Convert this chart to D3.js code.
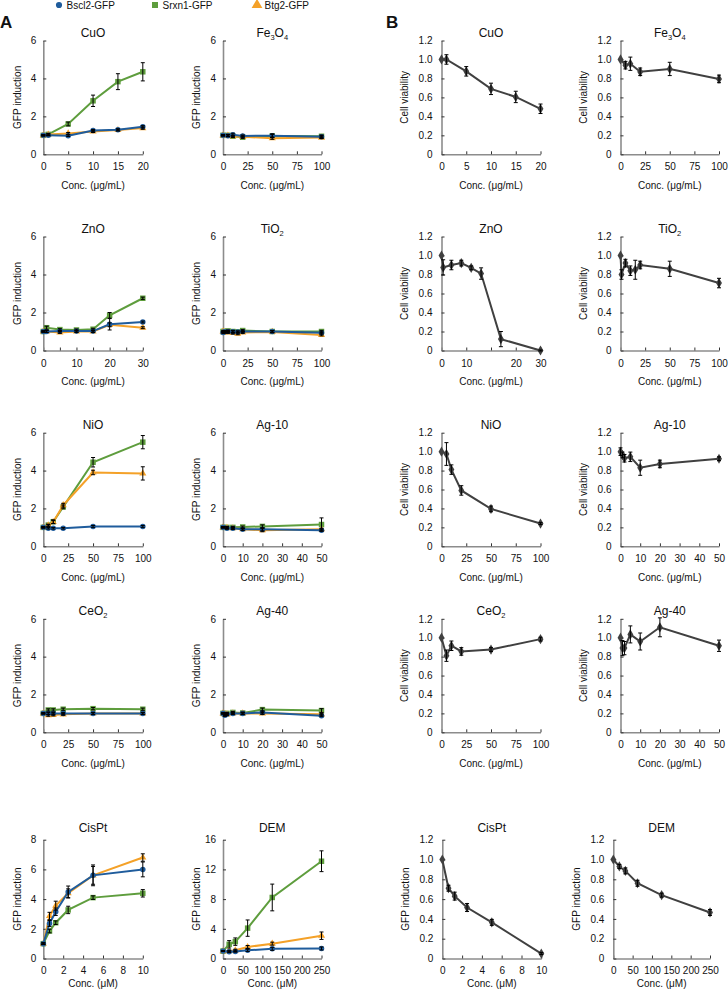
<!DOCTYPE html>
<html><head><meta charset="utf-8">
<script src="https://cdn.jsdelivr.net/npm/d3@7"></script>
<style>
body{margin:0;background:#fff}
svg{display:block}
text{font-family:"Liberation Sans",Arial,Helvetica,sans-serif;fill:#111}
</style>
</head><body>
<svg id="c" width="728" height="991"></svg>
<script>
// ---------------- DATA ----------------
const seriesNames = ["Bscl2-GFP", "Srxn1-GFP", "Btg2-GFP"];

// Panel A: GFP induction (Bscl2, Srxn1, Btg2)
const cuoConc = [0, 1, 5, 10, 15, 20];
const cuoBscl2 = [1.00, 1.00, 0.98, 1.25, 1.29, 1.45];
const cuoBscl2Err = [0.03, 0.03, 0.04, 0.06, 0.05, 0.06];
const cuoSrxn1 = [1.00, 1.05, 1.60, 2.82, 3.83, 4.35];
const cuoSrxn1Err = [0.03, 0.05, 0.10, 0.30, 0.42, 0.48];
const cuoBtg2 = [1.00, 1.04, 1.10, 1.20, 1.28, 1.38];
const cuoBtg2Err = [0.03, 0.04, 0.05, 0.05, 0.05, 0.06];

const fe3o4Conc = [0, 5, 10, 20, 50, 100];
const fe3o4Bscl2 = [1.00, 0.98, 1.03, 0.97, 0.98, 0.92];
const fe3o4Bscl2Err = [0.03, 0.05, 0.08, 0.05, 0.10, 0.08];
const fe3o4Srxn1 = [1.00, 1.00, 0.95, 0.90, 0.97, 0.95];
const fe3o4Srxn1Err = [0.03, 0.05, 0.06, 0.06, 0.08, 0.06];
const fe3o4Btg2 = [1.00, 0.98, 0.95, 0.92, 0.85, 0.88];
const fe3o4Btg2Err = [0.03, 0.05, 0.05, 0.05, 0.06, 0.05];

const znoConc = [0, 1, 5, 10, 15, 20, 30];
const znoBscl2 = [1.00, 1.00, 1.02, 1.02, 1.02, 1.38, 1.50];
const znoBscl2Err = [0.03, 0.05, 0.05, 0.05, 0.05, 0.30, 0.05];
const znoSrxn1 = [1.00, 1.20, 1.10, 1.08, 1.12, 1.85, 2.75];
const znoSrxn1Err = [0.03, 0.08, 0.05, 0.05, 0.05, 0.15, 0.06];
const znoBtg2 = [1.00, 1.00, 0.95, 1.00, 1.00, 1.35, 1.20];
const znoBtg2Err = [0.03, 0.05, 0.05, 0.05, 0.05, 0.10, 0.05];

const tio2Conc = [0, 1, 5, 10, 15, 20, 50, 100];
const tio2Bscl2 = [0.95, 0.98, 1.00, 0.98, 0.97, 1.00, 1.00, 0.93];
const tio2Bscl2Err = [0.04, 0.05, 0.05, 0.06, 0.05, 0.05, 0.05, 0.06];
const tio2Srxn1 = [1.00, 1.00, 1.03, 1.00, 0.98, 1.05, 1.00, 1.00];
const tio2Srxn1Err = [0.03, 0.05, 0.05, 0.06, 0.05, 0.05, 0.05, 0.06];
const tio2Btg2 = [1.00, 0.95, 0.95, 0.92, 0.88, 0.95, 0.98, 0.82];
const tio2Btg2Err = [0.03, 0.05, 0.05, 0.05, 0.05, 0.05, 0.05, 0.05];

const nioConc = [0, 5, 10, 20, 50, 100];
const nioBscl2 = [1.00, 0.95, 0.95, 0.95, 1.05, 1.05];
const nioBscl2Err = [0.03, 0.04, 0.04, 0.04, 0.05, 0.05];
const nioSrxn1 = [1.00, 1.12, 1.30, 2.08, 4.44, 5.50];
const nioSrxn1Err = [0.03, 0.05, 0.10, 0.10, 0.25, 0.35];
const nioBtg2 = [1.00, 1.10, 1.28, 2.17, 3.90, 3.85];
const nioBtg2Err = [0.03, 0.05, 0.08, 0.10, 0.12, 0.35];

const ag10Conc = [0, 2, 5, 10, 20, 50];
const ag10Bscl2 = [1.00, 0.95, 0.95, 0.90, 0.90, 0.85];
const ag10Bscl2Err = [0.03, 0.05, 0.05, 0.05, 0.08, 0.05];
const ag10Srxn1 = [1.00, 1.00, 1.00, 1.02, 1.05, 1.15];
const ag10Srxn1Err = [0.03, 0.05, 0.05, 0.05, 0.08, 0.35];
const ag10Btg2 = [1.00, 0.98, 0.95, 0.90, 0.85, 0.90];
const ag10Btg2Err = [0.03, 0.05, 0.05, 0.05, 0.08, 0.05];

const ceo2Conc = [0, 5, 10, 20, 50, 100];
const ceo2Bscl2 = [1.00, 1.00, 1.00, 1.00, 1.00, 1.00];
const ceo2Bscl2Err = [0.03, 0.05, 0.05, 0.05, 0.05, 0.05];
const ceo2Srxn1 = [1.00, 1.18, 1.18, 1.22, 1.25, 1.22];
const ceo2Srxn1Err = [0.03, 0.06, 0.06, 0.06, 0.06, 0.06];
const ceo2Btg2 = [1.00, 0.90, 0.92, 0.95, 1.00, 1.00];
const ceo2Btg2Err = [0.03, 0.05, 0.05, 0.05, 0.05, 0.05];

const ag40Conc = [0, 1, 2, 5, 10, 20, 50];
const ag40Bscl2 = [1.00, 0.90, 0.95, 1.00, 1.00, 1.05, 0.88];
const ag40Bscl2Err = [0.03, 0.06, 0.05, 0.05, 0.05, 0.08, 0.05];
const ag40Srxn1 = [1.00, 0.95, 1.00, 1.05, 1.02, 1.20, 1.15];
const ag40Srxn1Err = [0.03, 0.05, 0.05, 0.05, 0.05, 0.08, 0.10];
const ag40Btg2 = [1.00, 0.95, 0.95, 1.00, 1.00, 1.00, 0.95];
const ag40Btg2Err = [0.03, 0.05, 0.05, 0.05, 0.05, 0.05, 0.05];

const cisptConc = [0, 0.625, 1.25, 2.5, 5, 10];
const cisptBscl2 = [1.00, 2.36, 3.15, 4.48, 5.60, 6.00];
const cisptBscl2Err = [0.05, 0.20, 0.25, 0.40, 0.70, 0.50];
const cisptSrxn1 = [1.00, 1.85, 2.41, 3.27, 4.10, 4.39];
const cisptSrxn1Err = [0.05, 0.12, 0.12, 0.25, 0.12, 0.25];
const cisptBtg2 = [1.00, 2.86, 3.56, 4.39, 5.60, 6.80];
const cisptBtg2Err = [0.05, 0.25, 0.30, 0.30, 0.60, 0.25];

const demConc = [0, 15.625, 31.25, 62.5, 125, 250];
const demBscl2 = [1.00, 0.90, 0.95, 1.10, 1.30, 1.35];
const demBscl2Err = [0.05, 0.10, 0.10, 0.15, 0.20, 0.20];
const demSrxn1 = [1.00, 1.91, 2.27, 4.09, 8.22, 13.10];
const demSrxn1Err = [0.05, 0.50, 0.50, 1.10, 1.80, 1.40];
const demBtg2 = [1.00, 1.00, 1.10, 1.55, 2.00, 3.07];
const demBtg2Err = [0.05, 0.10, 0.15, 0.20, 0.20, 0.50];

// Panel B: cell viability
const vCuoConc = [0, 1, 5, 10, 15, 20];
const vCuo = [1.00, 1.00, 0.875, 0.69, 0.605, 0.48];
const vCuoErr = [0, 0.05, 0.05, 0.06, 0.06, 0.05];

const vFe3o4Conc = [0, 5, 10, 20, 50, 100];
const vFe3o4 = [1.00, 0.94, 0.955, 0.87, 0.90, 0.795];
const vFe3o4Err = [0, 0.04, 0.07, 0.04, 0.07, 0.04];

const vZnoConc = [0, 0.5, 3, 6, 9, 12, 18, 30];
const vZno = [1.00, 0.875, 0.90, 0.92, 0.87, 0.81, 0.12, 0.00];
const vZnoErr = [0, 0.08, 0.05, 0.03, 0.02, 0.06, 0.08, 0.005];

const vTio2Conc = [0, 1, 5, 10, 15, 20, 50, 100];
const vTio2 = [1.00, 0.80, 0.92, 0.84, 0.85, 0.90, 0.86, 0.71];
const vTio2Err = [0, 0.05, 0.04, 0.05, 0.10, 0.04, 0.08, 0.05];

const vNioConc = [0, 5, 10, 20, 50, 100];
const vNio = [1.00, 0.975, 0.81, 0.59, 0.395, 0.24];
const vNioErr = [0, 0.12, 0.05, 0.05, 0.03, 0.01];

const vAg10Conc = [0, 1, 2, 5, 10, 20, 50];
const vAg10 = [1.00, 0.965, 0.93, 0.945, 0.83, 0.87, 0.925];
const vAg10Err = [0.04, 0.03, 0.04, 0.05, 0.08, 0.04, 0.02];

const vCeo2Conc = [0, 5, 10, 20, 50, 100];
const vCeo2 = [1.00, 0.81, 0.915, 0.855, 0.875, 0.985];
const vCeo2Err = [0, 0.06, 0.05, 0.04, 0.02, 0.02];

const vAg40Conc = [0, 1, 2, 5, 10, 20, 50];
const vAg40 = [1.00, 0.89, 0.89, 1.035, 0.96, 1.11, 0.915];
const vAg40Err = [0, 0.08, 0.07, 0.09, 0.09, 0.10, 0.06];

const vCisptConc = [0, 0.625, 1.25, 2.5, 5, 10];
const vCispt = [1.00, 0.71, 0.63, 0.515, 0.365, 0.05];
const vCisptErr = [0, 0.03, 0.04, 0.04, 0.03, 0.01];

const vDemConc = [0, 15.625, 31.25, 62.5, 125, 250];
const vDem = [1.00, 0.93, 0.885, 0.76, 0.64, 0.465];
const vDemErr = [0, 0.02, 0.03, 0.03, 0.02, 0.03];

// Tick labels
const yTicksA = [0, 2, 4, 6];
const yTicksCispt = [0, 2, 4, 6, 8];
const yTicksDem = [0, 4, 8, 12, 16];
const yTicksB = [0, 0.2, 0.4, 0.6, 0.8, 1.0, 1.2];
const xTicks20 = [0, 5, 10, 15, 20];
const xTicks100 = [0, 25, 50, 75, 100];
const xTicks30 = [0, 5, 10, 15, 20, 25, 30];
const xTicks30B = [0, 7.5, 15, 22.5, 30];
const xTicks30BLabels = ["0", "10", "", "20", "30"];
const xTicks50 = [0, 10, 20, 30, 40, 50];
const xTicks10 = [0, 2, 4, 6, 8, 10];
const xTicks250 = [0, 50, 100, 150, 200, 250];

// ---------------- STYLE / LAYOUT ----------------
const colors = {Bscl2: "#1f5c9c", Srxn1: "#5e9d3d", Btg2: "#f4a128"};
const gray = "#404040";
const rowTop = [40.5, 236.5, 432.7, 618.8, 839.7];
const rowBot = [154.3, 350.5, 546.3, 732.3, 958.5];
const colsA = [[43.3, 142.8], [223, 321.5]];
const colsB = [[441.5, 540.5], [620.5, 719]];
const colsB5 = [[442.3, 541.3], [613.3, 710]];

const svg = d3.select("#c");

function addTitle(g, cx, y, str) {
  const t = g.append("text").attr("x", cx).attr("y", y)
    .attr("text-anchor", "middle").attr("font-size", 12);
  // digits in chemical formulas become subscripts
  const parts = str.match(/(\d+|\D+)/g);
  const chem = !str.includes("-");
  let sub = false;
  parts.forEach(p => {
    const isNum = /^\d+$/.test(p) && chem;
    const ts = t.append("tspan").text(p);
    if (isNum && !sub) { ts.attr("font-size", 7.5).attr("dy", 3); sub = true; }
    else if (!isNum && sub) { ts.attr("dy", -3); sub = false; }
  });
}

function panel(p) {
  const g = svg.append("g");
  const x = d3.scaleLinear().domain([0, p.xMax]).range([p.x0, p.x1]);
  const y = d3.scaleLinear().domain([0, p.yMax]).range([p.yb, p.yt]);
  const last = p.last;
  const xa = d3.axisBottom(x).tickValues(p.xTicks).tickSizeInner(-3).tickSizeOuter(0)
    .tickPadding(last ? 8 : 9)
    .tickFormat((d, i) => p.xLabels ? p.xLabels[i] : (p.xEvery ? (d % p.xEvery === 0 ? d : "") : d));
  const ya = d3.axisLeft(y).tickValues(p.yTicks).tickSizeInner(-3).tickSizeOuter(0)
    .tickPadding(p.isB ? 9 : 7)
    .tickFormat(p.isB ? (d => d === 0 ? "0" : d.toFixed(1)) : d3.format("d"));
  [g.append("g").attr("transform", `translate(0,${p.yb})`).call(xa),
   g.append("g").attr("transform", `translate(${p.x0},0)`).call(ya)].forEach(a => {
    a.select(".domain").attr("stroke", "#8c8c8c").attr("stroke-width", 1.6);
    a.selectAll(".tick line").attr("stroke", "#333").attr("stroke-width", 1);
    a.selectAll(".tick text").attr("font-size", 10).attr("fill", "#111")
      .attr("font-family", '"Liberation Sans",Arial,sans-serif');
  });
  addTitle(g, (p.x0 + p.x1) / 2, p.yt - (last ? 7.7 : 3.8), p.title);
  g.append("text").attr("x", (p.x0 + p.x1) / 2).attr("y", p.yb + (last ? 28.5 : 34.5))
    .attr("text-anchor", "middle").attr("font-size", 10).text(p.xTitle);
  g.append("text")
    .attr("transform", `translate(${p.x0 - (p.isB ? 37 : 26.3)},${(p.yt + p.yb) / 2}) rotate(-90)`)
    .attr("text-anchor", "middle").attr("dy", "0.35em").attr("font-size", 10).text(p.yTitle);

  const line = d3.line().x(d => x(d[0])).y(d => y(d[1]));
  p.series.forEach(s => {
    const pts = p.conc.map((c, i) => [c, s.vals[i]]);
    g.append("path").attr("d", line(pts)).attr("fill", "none")
      .attr("stroke", s.color).attr("stroke-width", 2);
    g.selectAll(null).data(pts).enter().append("path")
      .attr("transform", d => `translate(${x(d[0])},${y(d[1])})`)
      .attr("d", d3.symbol().type(s.shape).size(s.size))
      .attr("fill", s.color);
  });
  p.series.forEach(s => {
    p.conc.forEach((c, i) => {
      const e = s.errs[i];
      if (!e) return;
      const cx = x(c), y1 = y(s.vals[i] - e), y2 = y(s.vals[i] + e);
      g.append("line").attr("x1", cx).attr("x2", cx).attr("y1", y1).attr("y2", y2)
        .attr("stroke", "#000").attr("stroke-width", 1);
      [y1, y2].forEach(yy => g.append("line").attr("x1", cx - 2).attr("x2", cx + 2)
        .attr("y1", yy).attr("y2", yy).attr("stroke", "#000").attr("stroke-width", 1));
    });
  });
}

function aSeries(b, be, s, se, t, te) {
  return [
    {vals: s, errs: se, color: colors.Srxn1, shape: d3.symbolSquare, size: 30},
    {vals: t, errs: te, color: colors.Btg2, shape: d3.symbolTriangle, size: 22},
    {vals: b, errs: be, color: colors.Bscl2, shape: d3.symbolCircle, size: 24}
  ];
}
function bSeries(v, e) {
  return [{vals: v, errs: e, color: gray, shape: d3.symbolDiamond, size: 30}];
}

const ug = "Conc. (\u03bcg/mL)", um = "Conc. (\u03bcM)";
const panelsA = [
  {title: "CuO", conc: cuoConc, series: aSeries(cuoBscl2, cuoBscl2Err, cuoSrxn1, cuoSrxn1Err, cuoBtg2, cuoBtg2Err), xMax: 20, xTicks: xTicks20, yMax: 6, yTicks: yTicksA, xTitle: ug, r: 0, c: 0},
  {title: "Fe3O4", conc: fe3o4Conc, series: aSeries(fe3o4Bscl2, fe3o4Bscl2Err, fe3o4Srxn1, fe3o4Srxn1Err, fe3o4Btg2, fe3o4Btg2Err), xMax: 100, xTicks: xTicks100, yMax: 6, yTicks: yTicksA, xTitle: ug, r: 0, c: 1},
  {title: "ZnO", conc: znoConc, series: aSeries(znoBscl2, znoBscl2Err, znoSrxn1, znoSrxn1Err, znoBtg2, znoBtg2Err), xMax: 30, xTicks: xTicks30, xEvery: 10, yMax: 6, yTicks: yTicksA, xTitle: ug, r: 1, c: 0},
  {title: "TiO2", conc: tio2Conc, series: aSeries(tio2Bscl2, tio2Bscl2Err, tio2Srxn1, tio2Srxn1Err, tio2Btg2, tio2Btg2Err), xMax: 100, xTicks: xTicks100, yMax: 6, yTicks: yTicksA, xTitle: ug, r: 1, c: 1},
  {title: "NiO", conc: nioConc, series: aSeries(nioBscl2, nioBscl2Err, nioSrxn1, nioSrxn1Err, nioBtg2, nioBtg2Err), xMax: 100, xTicks: xTicks100, yMax: 6, yTicks: yTicksA, xTitle: ug, r: 2, c: 0},
  {title: "Ag-10", conc: ag10Conc, series: aSeries(ag10Bscl2, ag10Bscl2Err, ag10Srxn1, ag10Srxn1Err, ag10Btg2, ag10Btg2Err), xMax: 50, xTicks: xTicks50, yMax: 6, yTicks: yTicksA, xTitle: ug, r: 2, c: 1},
  {title: "CeO2", conc: ceo2Conc, series: aSeries(ceo2Bscl2, ceo2Bscl2Err, ceo2Srxn1, ceo2Srxn1Err, ceo2Btg2, ceo2Btg2Err), xMax: 100, xTicks: xTicks100, yMax: 6, yTicks: yTicksA, xTitle: ug, r: 3, c: 0},
  {title: "Ag-40", conc: ag40Conc, series: aSeries(ag40Bscl2, ag40Bscl2Err, ag40Srxn1, ag40Srxn1Err, ag40Btg2, ag40Btg2Err), xMax: 50, xTicks: xTicks50, yMax: 6, yTicks: yTicksA, xTitle: ug, r: 3, c: 1},
  {title: "CisPt", conc: cisptConc, series: aSeries(cisptBscl2, cisptBscl2Err, cisptSrxn1, cisptSrxn1Err, cisptBtg2, cisptBtg2Err), xMax: 10, xTicks: xTicks10, yMax: 8, yTicks: yTicksCispt, xTitle: um, r: 4, c: 0},
  {title: "DEM", conc: demConc, series: aSeries(demBscl2, demBscl2Err, demSrxn1, demSrxn1Err, demBtg2, demBtg2Err), xMax: 250, xTicks: xTicks250, yMax: 16, yTicks: yTicksDem, xTitle: um, r: 4, c: 1}
];
const panelsB = [
  {title: "CuO", conc: vCuoConc, series: bSeries(vCuo, vCuoErr), xMax: 20, xTicks: xTicks20, xTitle: ug, r: 0, c: 0},
  {title: "Fe3O4", conc: vFe3o4Conc, series: bSeries(vFe3o4, vFe3o4Err), xMax: 100, xTicks: xTicks100, xTitle: ug, r: 0, c: 1},
  {title: "ZnO", conc: vZnoConc, series: bSeries(vZno, vZnoErr), xMax: 30, xTicks: xTicks30B, xLabels: xTicks30BLabels, xTitle: ug, r: 1, c: 0},
  {title: "TiO2", conc: vTio2Conc, series: bSeries(vTio2, vTio2Err), xMax: 100, xTicks: xTicks100, xTitle: ug, r: 1, c: 1},
  {title: "NiO", conc: vNioConc, series: bSeries(vNio, vNioErr), xMax: 100, xTicks: xTicks100, xTitle: ug, r: 2, c: 0},
  {title: "Ag-10", conc: vAg10Conc, series: bSeries(vAg10, vAg10Err), xMax: 50, xTicks: xTicks50, xTitle: ug, r: 2, c: 1},
  {title: "CeO2", conc: vCeo2Conc, series: bSeries(vCeo2, vCeo2Err), xMax: 100, xTicks: xTicks100, xTitle: ug, r: 3, c: 0},
  {title: "Ag-40", conc: vAg40Conc, series: bSeries(vAg40, vAg40Err), xMax: 50, xTicks: xTicks50, xTitle: ug, r: 3, c: 1},
  {title: "CisPt", conc: vCisptConc, series: bSeries(vCispt, vCisptErr), xMax: 10, xTicks: xTicks10, xTitle: um, yTitle: "GFP induction", r: 4, c: 0},
  {title: "DEM", conc: vDemConc, series: bSeries(vDem, vDemErr), xMax: 250, xTicks: xTicks250, xTitle: um, yTitle: "GFP induction", r: 4, c: 1}
];

panelsA.forEach(p => {
  const [x0, x1] = colsA[p.c];
  panel(Object.assign({}, p, {x0, x1, yt: rowTop[p.r], yb: rowBot[p.r], last: p.r === 4,
    isB: false, yTitle: "GFP induction"}));
});
panelsB.forEach(p => {
  const [x0, x1] = (p.r === 4 ? colsB5 : colsB)[p.c];
  panel(Object.assign({}, p, {x0, x1, yt: rowTop[p.r], yb: rowBot[p.r], last: p.r === 4,
    isB: true, yMax: 1.2, yTicks: yTicksB, yTitle: p.yTitle || "Cell viability"}));
});

svg.append("text").attr("x", 0).attr("y", 28).attr("font-size", 17).attr("font-weight", "bold").text("A");
svg.append("text").attr("x", 386).attr("y", 28).attr("font-size", 17).attr("font-weight", "bold").text("B");

const legX = [59, 155, 257];
const legShapes = [d3.symbolCircle, d3.symbolSquare, d3.symbolTriangle];
const legSizes = [30, 36, 50];
const legCols = [colors.Bscl2, colors.Srxn1, colors.Btg2];
seriesNames.forEach((n, i) => {
  svg.append("path").attr("transform", `translate(${legX[i]},${5})`)
    .attr("d", d3.symbol().type(legShapes[i]).size(legSizes[i])).attr("fill", legCols[i]);
  svg.append("text").attr("x", legX[i] + 7.5).attr("y", 8.8).attr("font-size", 10).text(n);
});
</script>
</body></html>
